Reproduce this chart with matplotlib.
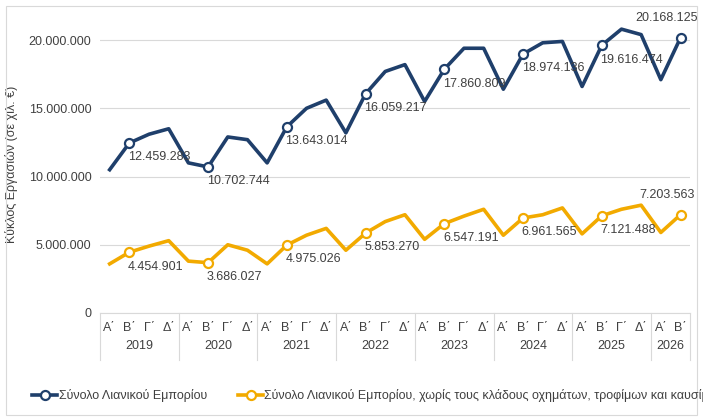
import matplotlib
matplotlib.use("Agg")
import matplotlib.pyplot as plt
from matplotlib.lines import Line2D

years = ["2019", "2020", "2021", "2022", "2023", "2024", "2025", "2026"]
quarters_per_year = [4, 4, 4, 4, 4, 4, 4, 2]
qnames = ["Α΄", "Β΄", "Γ΄", "Δ΄"]
total = [10.5, 12.459283, 13.1, 13.5,
         11.0, 10.702744, 12.9, 12.7,
         11.0, 13.643014, 15.0, 15.6,
         13.2, 16.059217, 17.7, 18.2,
         15.5, 17.860809, 19.4, 19.4,
         16.4, 18.974136, 19.8, 19.9,
         16.6, 19.616474, 20.8, 20.4,
         17.1, 20.168125]
core = [3.6, 4.454901, 4.9, 5.3,
        3.8, 3.686027, 5.0, 4.6,
        3.6, 4.975026, 5.7, 6.2,
        4.6, 5.853270, 6.7, 7.2,
        5.4, 6.547191, 7.1, 7.6,
        5.7, 6.961565, 7.2, 7.7,
        5.8, 7.121488, 7.6, 7.9,
        5.9, 7.203563]
total = [v * 1e6 for v in total]
core = [v * 1e6 for v in core]

def fmt(v):
    return f"{int(round(v)):,}".replace(",", ".")

plt.rcParams['font.family'] = ['Liberation Sans Narrow', 'Liberation Sans', 'DejaVu Sans']
fig = plt.figure(figsize=(7.03, 4.19), dpi=100)
ax = fig.add_axes([0.142, 0.253, 0.84, 0.71])
n = len(total)
x = list(range(n))
blue, orange = "#1F3F6B", "#F2AA00"
ax.plot(x, total, color=blue, lw=2.6, zorder=3)
ax.plot(x, core, color=orange, lw=2.6, zorder=3)
fs = 9
for i in range(1, n, 4):
    for ser, col in ((total, blue), (core, orange)):
        ax.plot(i, ser[i], 'o', ms=6.5, mfc='white', mec=col, mew=1.6, zorder=4)
        if i == n - 1:
            ax.annotate(fmt(ser[i]), (i, ser[i]), xytext=(-10, 10), textcoords='offset points',
                        ha='center', va='bottom', fontsize=fs, color='#404040')
        else:
            ax.annotate(fmt(ser[i]), (i, ser[i]), xytext=(-1, -6), textcoords='offset points',
                        ha='left', va='top', fontsize=fs, color='#404040', zorder=5)

ax.set_xlim(-0.5, n - 0.5)
ax.set_ylim(0, 21.8e6)
ax.set_yticks([0, 5e6, 10e6, 15e6, 20e6])
ax.set_yticklabels(["0", "5.000.000", "10.000.000", "15.000.000", "20.000.000"], fontsize=fs, color='#404040')
ax.yaxis.grid(True, color='#D9D9D9', lw=0.8)
ax.set_axisbelow(True)
for s in ax.spines.values():
    s.set_visible(False)
ax.tick_params(axis='y', length=0, pad=6)
ax.set_xticks([])
ax.set_ylabel("Κύκλος Εργασιών (σε χιλ. €)", fontsize=fs, color='#404040', labelpad=8)

tr = ax.get_xaxis_transform()
ax.plot([-0.5, n - 0.5], [0, 0], color='#D9D9D9', lw=0.8, transform=tr, clip_on=False)
pos = 0
bounds = [-0.5]
for y, k in zip(years, quarters_per_year):
    for q in range(k):
        ax.text(pos + q, -0.05, qnames[q], transform=tr, ha='center', va='center', fontsize=fs, color='#404040')
    ax.text(pos + (k - 1) / 2, -0.11, y, transform=tr, ha='center', va='center', fontsize=fs, color='#404040')
    pos += k
    bounds.append(pos - 0.5)
for b in bounds:
    ax.plot([b, b], [0, -0.158], color='#D9D9D9', lw=0.8, transform=tr, clip_on=False)

handles = [Line2D([0], [0], color=blue, lw=2.6, marker='o', mfc='white', mec=blue, ms=6.5, mew=1.6),
           Line2D([0], [0], color=orange, lw=2.6, marker='o', mfc='white', mec=orange, ms=6.5, mew=1.6)]
fig.legend(handles, ["Σύνολο Λιανικού Εμπορίου",
                     "Σύνολο Λιανικού Εμπορίου, χωρίς τους κλάδους οχημάτων, τροφίμων και καυσίμων"],
           loc='center left', bbox_to_anchor=(0.03, 0.055), ncol=2, frameon=False, fontsize=fs,
           handlelength=2.0, handletextpad=0.1, columnspacing=2.5, labelcolor='#404040')
fig.patches.append(plt.Rectangle((0.008, 0.01), 0.984, 0.975, transform=fig.transFigure,
                                 fill=False, ec='#D9D9D9', lw=0.8))
fig.savefig("out.png", dpi=100)
